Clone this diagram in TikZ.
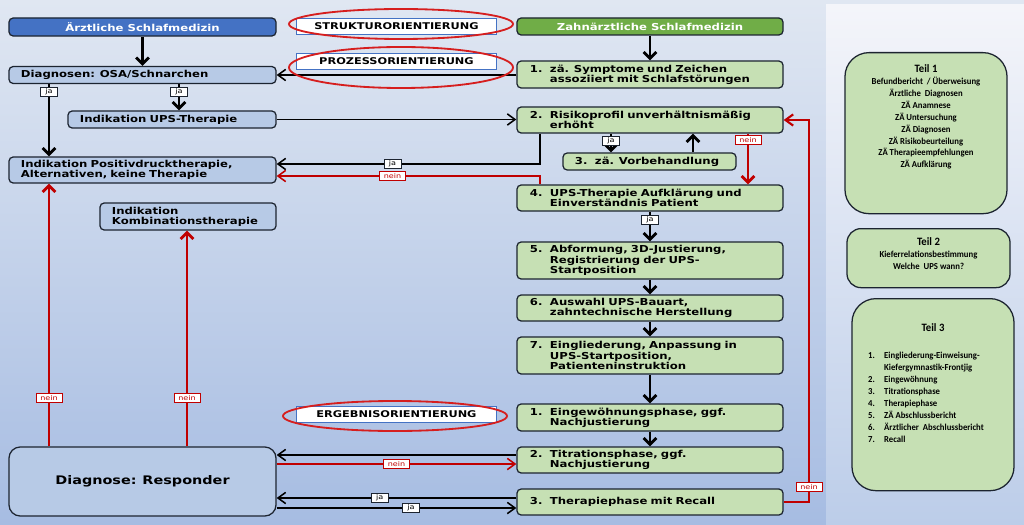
\documentclass[tikz,border=0pt]{standalone}
\usepackage{fontspec}
\setmainfont{DejaVu Sans}[FakeStretch=1.22]
\newfontfamily\teilfont{Carlito}[FakeStretch=0.95]
\usetikzlibrary{arrows.meta,shapes.geometric}

\definecolor{hdblue}{HTML}{4472C4}
\definecolor{boxblue}{HTML}{B7CAE6}
\definecolor{hdgreen}{HTML}{70AD47}
\definecolor{boxgreen}{HTML}{C6E0B4}
\definecolor{linered}{HTML}{C00000}
\definecolor{ovalred}{HTML}{D61E1E}
\definecolor{edge}{HTML}{1C2430}
\definecolor{bgtop}{HTML}{E0E7F2}
\definecolor{bgbot}{HTML}{A6BCE2}
\definecolor{pantop}{HTML}{F4F5FA}
\definecolor{panbot}{HTML}{BCCDE9}

\newcommand{\nr}[2][0.5cm]{\makebox[#1][l]{#2}}
\newcommand{\nrind}[1][0.5cm]{\hspace*{#1}}

\tikzset{
  box/.style={draw=edge,line width=0.9pt,rounded corners=3pt,inner ysep=0pt,
    font=\fontsize{6.8}{7.3}\selectfont\bfseries},
  lhead/.style={box,fill=hdblue,text=white,minimum width=6.675cm,minimum height=0.45cm},
  rhead/.style={box,fill=hdgreen,text=white,minimum width=6.65cm,minimum height=0.425cm},
  lbox/.style={box,fill=boxblue,text width=6.075cm,align=left,inner xsep=0.3cm},
  rbox/.style={box,fill=boxgreen,text width=6.0cm,align=left,inner xsep=0.325cm},
  teil/.style={draw=edge,line width=0.9pt,fill=boxgreen,rounded corners=0.6cm,align=center,
    inner ysep=0pt,font=\teilfont\bfseries\fontsize{6.5}{8.5}\selectfont},
  ori/.style={draw=hdblue,fill=white,line width=0.7pt,minimum width=4.975cm,minimum height=0.4cm,
    inner sep=0pt,font=\fontsize{6.6}{7}\selectfont\bfseries},
  oval/.style={ellipse,draw=ovalred,line width=1.3pt,minimum width=5.6cm,minimum height=0.75cm},
  varr/.style={line width=2pt,-{Straight Barb[length=4.5pt,width=9pt]}},
  harr/.style={line width=1.1pt,-{Straight Barb[length=5.5pt,width=8pt]}},
  rvarr/.style={varr,draw=linered},
  rharr/.style={harr,draw=linered},
  ja/.style={draw=edge,fill=white,line width=0.5pt,inner sep=0pt,minimum width=0.425cm,
    minimum height=0.225cm,text=black,font=\fontsize{4.7}{5}\selectfont},
  nein/.style={ja,draw=linered,text=linered,minimum width=0.65cm}
}

\begin{document}
\begin{tikzpicture}[x=0.025cm,y=-0.025cm]
\useasboundingbox (0,0) rectangle (1024,525);
\shade[top color=bgtop,bottom color=bgbot] (0,0) rectangle (1024,525);
\shade[top color=pantop,bottom color=panbot] (826,5) rectangle (1024,525);

\coordinate (xa) at (49,0);
\coordinate (xb) at (179,0);
\coordinate (xg) at (187,0);
\coordinate (xc) at (540,0);
\coordinate (xd) at (611,0);
\coordinate (xe) at (693,0);
\coordinate (xf) at (748,0);
\coordinate (xh) at (809,0);
\coordinate (jarow) at (0,164);
\coordinate (neinrow) at (0,176);
\coordinate (r1) at (0,455);
\coordinate (r2) at (0,464);
\coordinate (r3) at (0,498);
\coordinate (r4) at (0,508);

\node[lhead] (aes) at (142.5,27) {Ärztliche Schlafmedizin};
\node[lbox,minimum height=0.425cm] (dia) at (142.5,75) {Diagnosen: OSA/Schnarchen};
\node[lbox,text width=4.6cm,minimum height=0.425cm] (ups) at (172,119.5) {Indikation UPS-Therapie};
\node[lbox,minimum height=0.65cm] (pdt) at (142.5,170) {Indikation Positivdrucktherapie,\\Alternativen, keine Therapie};
\node[lbox,text width=3.8cm,minimum height=0.675cm] (komb) at (188,216.5) {Indikation\\Kombinationstherapie};
\node[lbox,align=center,minimum height=1.725cm,rounded corners=8pt,
  font=\fontsize{8.4}{9}\selectfont\bfseries] (resp) at (142.5,481.5) {Diagnose: Responder};

\node[rhead] (zahn) at (650,26.5) {Zahnärztliche Schlafmedizin};
\node[rbox,minimum height=0.675cm] (s1) at (650,74.5) {\nr{1.}zä. Symptome und Zeichen\\\nrind assoziiert mit Schlafstörungen};
\node[rbox,minimum height=0.65cm] (s2) at (650,120) {\nr{2.}Risikoprofil unverhältnismäßig\\\nrind erhöht};
\node[rbox,text width=3.725cm,inner xsep=0.3cm,minimum height=0.425cm] (s3) at (649.5,161.5) {\nr{3.}zä. Vorbehandlung};
\node[rbox,minimum height=0.65cm] (s4) at (650,198) {\nr{4.}UPS-Therapie Aufklärung und\\\nrind Einverständnis Patient};
\node[rbox,minimum height=0.925cm] (s5) at (650,260.5) {\nr{5.}Abformung, 3D-Justierung,\\\nrind Registrierung der UPS-\\\nrind Startposition};
\node[rbox,minimum height=0.65cm] (s6) at (650,308) {\nr{6.}Auswahl UPS-Bauart,\\\nrind zahntechnische Herstellung};
\node[rbox,minimum height=0.925cm] (s7) at (650,355.5) {\nr{7.}Eingliederung, Anpassung in\\\nrind UPS-Startposition,\\\nrind Patienteninstruktion};
\node[rbox,minimum height=0.675cm] (p1) at (650,417.5) {\nr{1.}Eingewöhnungsphase, ggf.\\\nrind Nachjustierung};
\node[rbox,minimum height=0.65cm] (p2) at (650,460) {\nr{2.}Titrationsphase, ggf.\\\nrind Nachjustierung};
\node[rbox,minimum height=0.65cm] (p3) at (650,502) {\nr{3.}Therapiephase mit Recall};

\node[teil,anchor=north,minimum width=4.05cm,minimum height=4.025cm] (teil1) at (926,52)
  {{\fontsize{8}{8.5}\selectfont Teil 1}\\Befundbericht~ / Überweisung\\Ärztliche~ Diagnosen\\ZÄ Anamnese\\ZÄ Untersuchung\\ZÄ Diagnosen\\ZÄ Risikobeurteilung\\ZÄ Therapieempfehlungen\\ZÄ Aufklärung\rule[-0.85cm]{0pt}{0.85cm}};
\node[teil,anchor=north,rounded corners=0.35cm,minimum width=4.075cm,minimum height=1.475cm] (teil2) at (928.5,228)
  {{\fontsize{8}{8.5}\selectfont Teil 2}\\Kieferrelationsbestimmung\\Welche~ UPS wann?\rule[-0.25cm]{0pt}{0.25cm}};
\node[teil,anchor=north,minimum width=4.05cm,minimum height=4.8cm] (teil3) at (933,298)
  {{\fontsize{8}{8.5}\selectfont Teil 3}\\[11pt]\hspace*{-0.35cm}\begin{tabular}[t]{@{}l@{}}
    \nr[0.4cm]{1.}Eingliederung-Einweisung-\\\nrind[0.4cm]Kiefergymnastik-Frontjig\\
    \nr[0.4cm]{2.}Eingewöhnung\\\nr[0.4cm]{3.}Titrationsphase\\\nr[0.4cm]{4.}Therapiephase\\
    \nr[0.4cm]{5.}ZÄ Abschlussbericht\\\nr[0.4cm]{6.}Ärztlicher~ Abschlussbericht\\
    \nr[0.4cm]{7.}Recall\rule[-0.6cm]{0pt}{0.6cm}\end{tabular}};

\node[ori] (struk) at (396.5,26.5) {STRUKTURORIENTIERUNG};
\node[ori] (proz) at (396.5,61.5) {PROZESSORIENTIERUNG};
\node[ori] (erg) at (396.5,414.5) {ERGEBNISORIENTIERUNG};

\draw[varr] (aes) -- (dia);
\draw[varr] (zahn) -- (s1);
\draw[harr] (s1.west |- dia.east) -- (dia.east);
\draw[varr] (xb |- dia.south) -- node[ja,pos=0.29]{ja} (xb |- ups.north);
\draw[varr] (xa |- dia.south) -- node[ja,pos=0.11]{ja} (xa |- pdt.north);
\draw[harr] (ups.east) -- (ups.east -| s2.west);
\draw[harr] (xc |- s2.south) |- node[ja,pos=0.78]{ja} (pdt.east |- jarow);
\draw[rharr] (xc |- s4.north) |- node[nein,pos=0.78]{nein} (pdt.east |- neinrow);
\draw[varr] (xd |- s2.south) -- node[ja,pos=0.4]{ja} (xd |- s3.north);
\draw[varr] (xe |- s3.north) -- (xe |- s2.south);
\draw[rvarr] (xf |- s2.south) -- node[nein,pos=0.13]{nein} (xf |- s4.north);
\draw[varr] (s4) -- node[ja,pos=0.26]{ja} (s5);
\draw[varr] (s5) -- (s6);
\draw[varr] (s6) -- (s7);
\draw[varr] (s7) -- (p1);
\draw[varr] (p1) -- (p2);
\draw[rvarr] (xa |- resp.north) -- node[nein,pos=0.185]{nein} (xa |- pdt.south);
\draw[rvarr] (xg |- resp.north) -- node[nein,pos=0.226]{nein} (xg |- komb.south);
\draw[harr] (p2.west |- r1) -- (resp.east |- r1);
\draw[rharr] (resp.east |- r2) -- node[nein]{nein} (p2.west |- r2);
\draw[harr] (p3.west |- r3) -- node[ja,pos=0.57]{ja} (resp.east |- r3);
\draw[harr] (resp.east |- r4) -- node[ja,pos=0.56]{ja} (p3.west |- r4);
\draw[rharr,line width=1.5pt] (p3.east) -| node[nein,pos=0.52]{nein} (xh |- s2.east) -- (s2.east);

\node[oval] (struko) at (401,24) {};
\node[oval,minimum height=1.025cm] (prozo) at (401,67.5) {};
\node[oval] (ergo) at (395,416) {};
\end{tikzpicture}
\end{document}
